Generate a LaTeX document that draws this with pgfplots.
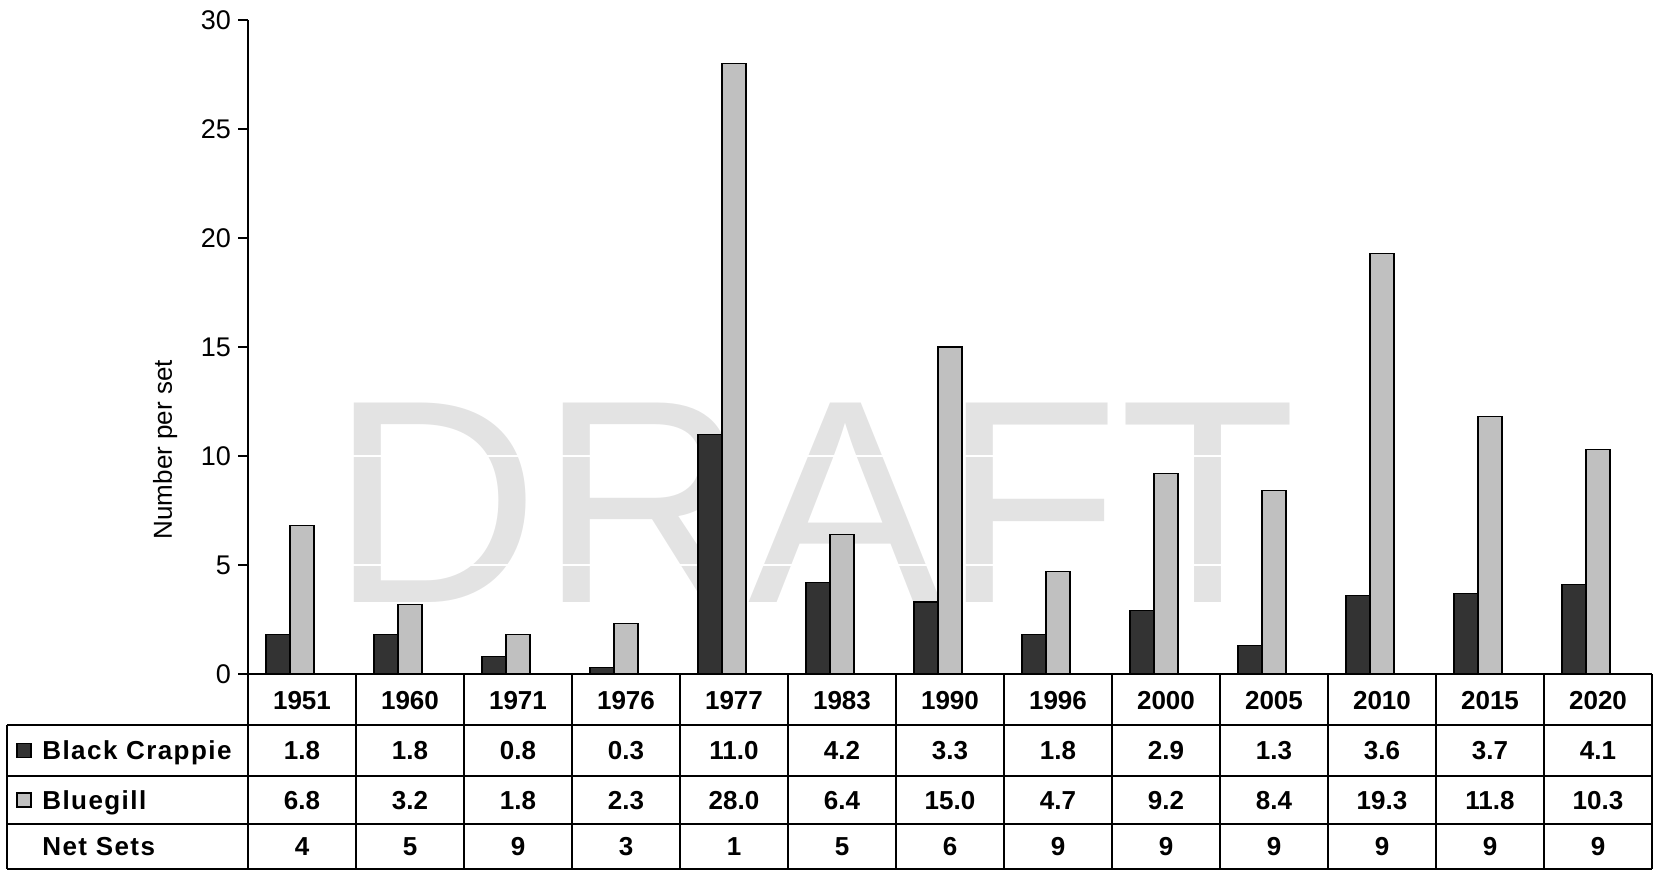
\documentclass[border=0pt]{standalone}
\usepackage{pgfplots}
\usepackage{pgfplotstable}
\usepackage{fontspec}
\setmainfont{Liberation Sans}
\pgfplotsset{compat=1.18}

\definecolor{crappie}{HTML}{333333}
\definecolor{bluegill}{HTML}{C0C0C0}
\definecolor{watermark}{HTML}{E3E3E3}

% Catch per net set, by survey year
\pgfplotstableread{
idx year crappie bluegill nets
0  1951 1.8  6.8  4
1  1960 1.8  3.2  5
2  1971 0.8  1.8  9
3  1976 0.3  2.3  3
4  1977 11.0 28.0 1
5  1983 4.2  6.4  5
6  1990 3.3  15.0 6
7  1996 1.8  4.7  9
8  2000 2.9  9.2  9
9  2005 1.3  8.4  9
10 2010 3.6  19.3 9
11 2015 3.7  11.8 9
12 2020 4.1  10.3 9
}\catch

\newcommand{\tabfont}{\fontsize{13}{15}\selectfont\bfseries}
\newcommand{\rowlabfont}{\fontsize{13}{15}\selectfont\bfseries\addfontfeatures{LetterSpace=5.5}}

\begin{document}
\begin{tikzpicture}
\begin{axis}[
  set layers,
  scale only axis,
  width=702pt, height=327pt,
  xmin=-0.5, xmax=12.5,
  ymin=0, ymax=30,
  axis x line*=bottom,
  axis y line*=left,
  axis line style={line width=0.75pt},
  xtick={0,...,12},
  xticklabels from table={\catch}{year},
  x tick style={draw=none},
  x tick label style={font=\tabfont, anchor=center, yshift=-8.5pt},
  ytick={0,5,...,30},
  y tick style={line width=0.75pt, black},
  tick align=outside,
  major tick length=5pt,
  y tick label style={font=\fontsize{13.5}{16}\selectfont},
  /pgf/number format/assume math mode=true,
  ymajorgrids,
  grid style={white, line width=1.2pt},
  ylabel={Number per set},
  ylabel style={font=\fontsize{13}{15}\selectfont, at={(axis description cs:-0.059,0.343)}, anchor=center},
  ybar, bar width=12pt,
  clip=false,
]
\begin{pgfonlayer}{axis background}
  \node[anchor=base, text=watermark, font=\fontsize{145}{150}\selectfont, inner sep=0pt]
    at (axis cs:4.736,3.30) {DRAFT};
\end{pgfonlayer}
\addplot[fill=crappie, draw=black, line width=0.6pt, bar shift=-12pt]
  table[x=idx, y=crappie] {\catch};
\addplot[fill=bluegill, draw=black, line width=0.6pt, bar shift=0pt]
  table[x=idx, y=bluegill] {\catch};
\end{axis}

% data table under the chart
\begin{scope}[line width=0.75pt]
  \foreach \i in {0,...,13} {
    \draw ({54*\i pt},0pt) -- ({54*\i pt},-97.5pt);
  }
  \draw (-120.5pt,-25.5pt) -- (702pt,-25.5pt);
  \draw (-120.5pt,-51pt) -- (702pt,-51pt);
  \draw (-120.5pt,-75pt) -- (702pt,-75pt);
  \draw (-120.5pt,-97.5pt) -- (702pt,-97.5pt);
  \draw (-120.5pt,-25.5pt) -- (-120.5pt,-97.5pt);
\end{scope}

\draw[fill=crappie, line width=0.6pt] (-115.5pt,-41.75pt) rectangle (-108.5pt,-34.75pt);
\draw[fill=bluegill, line width=0.6pt] (-115.5pt,-66.5pt) rectangle (-108.5pt,-59.5pt);
\node[anchor=base west, inner sep=0pt, font=\rowlabfont] at (-103pt,-42.9pt) {Black Crappie};
\node[anchor=base west, inner sep=0pt, font=\rowlabfont] at (-103pt,-67.65pt) {Bluegill};
\node[anchor=base west, inner sep=0pt, font=\rowlabfont] at (-103pt,-90.9pt) {Net Sets};

\foreach \i in {0,...,12} {
  \pgfplotstablegetelem{\i}{crappie}\of\catch
  \node[anchor=base, inner sep=0pt, font=\tabfont] at ({54*\i pt+27pt},-42.9pt) {\pgfplotsretval};
  \pgfplotstablegetelem{\i}{bluegill}\of\catch
  \node[anchor=base, inner sep=0pt, font=\tabfont] at ({54*\i pt+27pt},-67.65pt) {\pgfplotsretval};
  \pgfplotstablegetelem{\i}{nets}\of\catch
  \node[anchor=base, inner sep=0pt, font=\tabfont] at ({54*\i pt+27pt},-90.9pt) {\pgfplotsretval};
}

\pgfresetboundingbox
\path[use as bounding box] (-124pt,-98pt) rectangle (704pt,337pt);
\end{tikzpicture}
\end{document}
